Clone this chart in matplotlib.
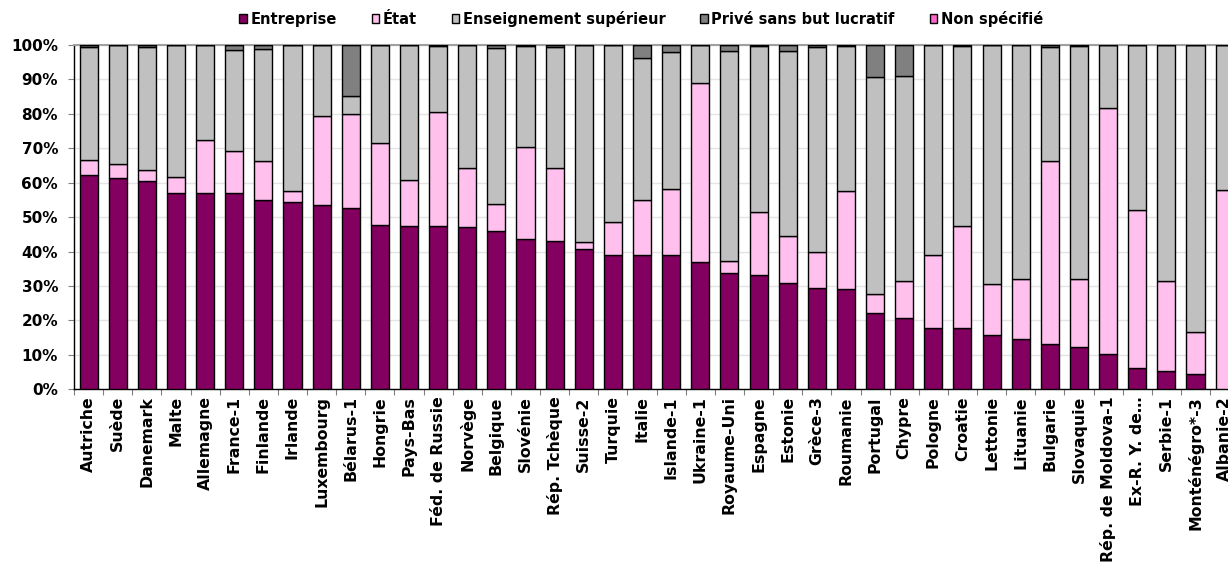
import matplotlib
matplotlib.use("Agg")
import matplotlib.pyplot as plt
import numpy as np

plt.rcParams['font.family'] = ['DejaVu Sans']

countries = ["Autriche", "Suède", "Danemark", "Malte", "Allemagne", "France-1", "Finlande",
             "Irlande", "Luxembourg", "Bélarus-1", "Hongrie", "Pays-Bas", "Féd. de Russie",
             "Norvège", "Belgique", "Slovénie", "Rép. Tchèque", "Suisse-2", "Turquie", "Italie",
             "Islande-1", "Ukraine-1", "Royaume-Uni", "Espagne", "Estonie", "Grèce-3", "Roumanie",
             "Portugal", "Chypre", "Pologne", "Croatie", "Lettonie", "Lituanie", "Bulgarie",
             "Slovaquie", "Rép. de Moldova-1", "Ex-R. Y. de…", "Serbie-1", "Monténégro*-3",
             "Albanie-2"]

entreprise = [62.1, 61.5, 60.6, 56.9, 56.9, 56.9, 55.1, 54.4, 53.4, 52.6, 47.8, 47.5, 47.5,
              47.2, 45.9, 43.7, 43.0, 40.8, 39.1, 39.1, 39.1, 37.0, 33.9, 33.3, 30.9, 29.5,
              29.2, 22.2, 20.8, 17.8, 17.7, 15.7, 14.5, 13.2, 12.3, 10.3, 6.1, 5.2, 4.5, 0.0]

etat = [4.5, 3.9, 3.2, 4.9, 15.6, 12.2, 11.1, 3.2, 26.1, 27.5, 23.7, 13.4, 33.0,
        17.0, 7.8, 26.6, 21.4, 1.9, 9.5, 15.8, 19.2, 52.0, 3.3, 18.3, 13.6, 10.5,
        28.5, 5.6, 10.8, 21.1, 29.6, 14.9, 17.5, 53.0, 19.8, 71.3, 45.9, 26.3, 12.2, 57.8]

ens_sup = [32.7, 34.6, 35.6, 38.2, 27.5, 29.4, 32.7, 42.4, 20.5, 5.2, 28.5, 39.1, 19.2,
           35.8, 45.5, 29.3, 34.9, 57.3, 51.4, 41.2, 39.6, 11.0, 61.1, 48.1, 53.8, 59.3,
           41.9, 63.0, 59.5, 61.1, 52.4, 69.4, 68.0, 33.1, 67.5, 18.4, 48.0, 68.5, 83.3, 42.2]

prive = [0.7, 0.0, 0.6, 0.0, 0.0, 1.5, 1.1, 0.0, 0.0, 14.7, 0.0, 0.0, 0.3,
         0.0, 0.8, 0.4, 0.7, 0.0, 0.0, 3.9, 2.1, 0.0, 1.7, 0.3, 1.7, 0.7,
         0.4, 9.2, 8.9, 0.0, 0.3, 0.0, 0.0, 0.7, 0.4, 0.0, 0.0, 0.0, 0.0, 0.0]

non_specifie = [0.0] * len(countries)

series = [
    ("Entreprise", entreprise, "#840060"),
    ("État", etat, "#FFC0EE"),
    ("Enseignement supérieur", ens_sup, "#C0C0C0"),
    ("Privé sans but lucratif", prive, "#808080"),
    ("Non spécifié", non_specifie, "#FF66CC"),
]

fig = plt.figure(figsize=(12.28, 5.65), dpi=100)
ax = fig.add_axes([74 / 1228, 175.7 / 565, 1165.2 / 1228, 344.3 / 565])

x = np.arange(len(countries))
bottom = np.zeros(len(countries))
handles = []
for name, vals, col in series:
    v = np.array(vals, dtype=float)
    b = ax.bar(x, v, 0.62, bottom=bottom, color=col, edgecolor="black", linewidth=1.0,
               label=name, zorder=3)
    handles.append(b)
    bottom += v

ax.set_xlim(-0.5, len(countries) - 0.5)
ax.set_ylim(0, 100)
ax.set_yticks(np.arange(0, 101, 10))
ax.set_yticklabels([f"{v}%" for v in range(0, 101, 10)], fontsize=11, fontweight="bold")
ax.yaxis.grid(True, color="#E4E4E4", linewidth=1.0, zorder=0)
ax.set_axisbelow(True)

ax.set_xticks(x)
ax.set_xticklabels(countries, rotation=90, fontsize=11.3, fontweight="bold", va="top", ha="center")
ax.set_xticks(np.arange(-0.5, len(countries), 1), minor=True)
ax.tick_params(axis="x", which="major", length=0, pad=5)
ax.tick_params(axis="x", which="minor", length=4.5, width=0.8, color="#808080", direction="out")
ax.tick_params(axis="y", length=4.5, width=0.8, color="#808080", direction="out", pad=7)

for s in ["left", "bottom"]:
    ax.spines[s].set_color("black")
    ax.spines[s].set_linewidth(1.0)
ax.spines["top"].set_color("#A0A0A0")
ax.spines["top"].set_linewidth(1.5)
ax.spines["right"].set_visible(False)

leg = fig.legend(handles=handles, loc="center", bbox_to_anchor=(0.522, 0.967), ncol=5,
                 frameon=False, prop={"weight": "bold", "size": 10.5},
                 handlelength=0.5, handleheight=0.5, handletextpad=0.25, columnspacing=2.4)
for h in leg.legend_handles:
    h.set_linewidth(1.0)
    h.set_edgecolor("black")

fig.savefig("out.png", dpi=100)
